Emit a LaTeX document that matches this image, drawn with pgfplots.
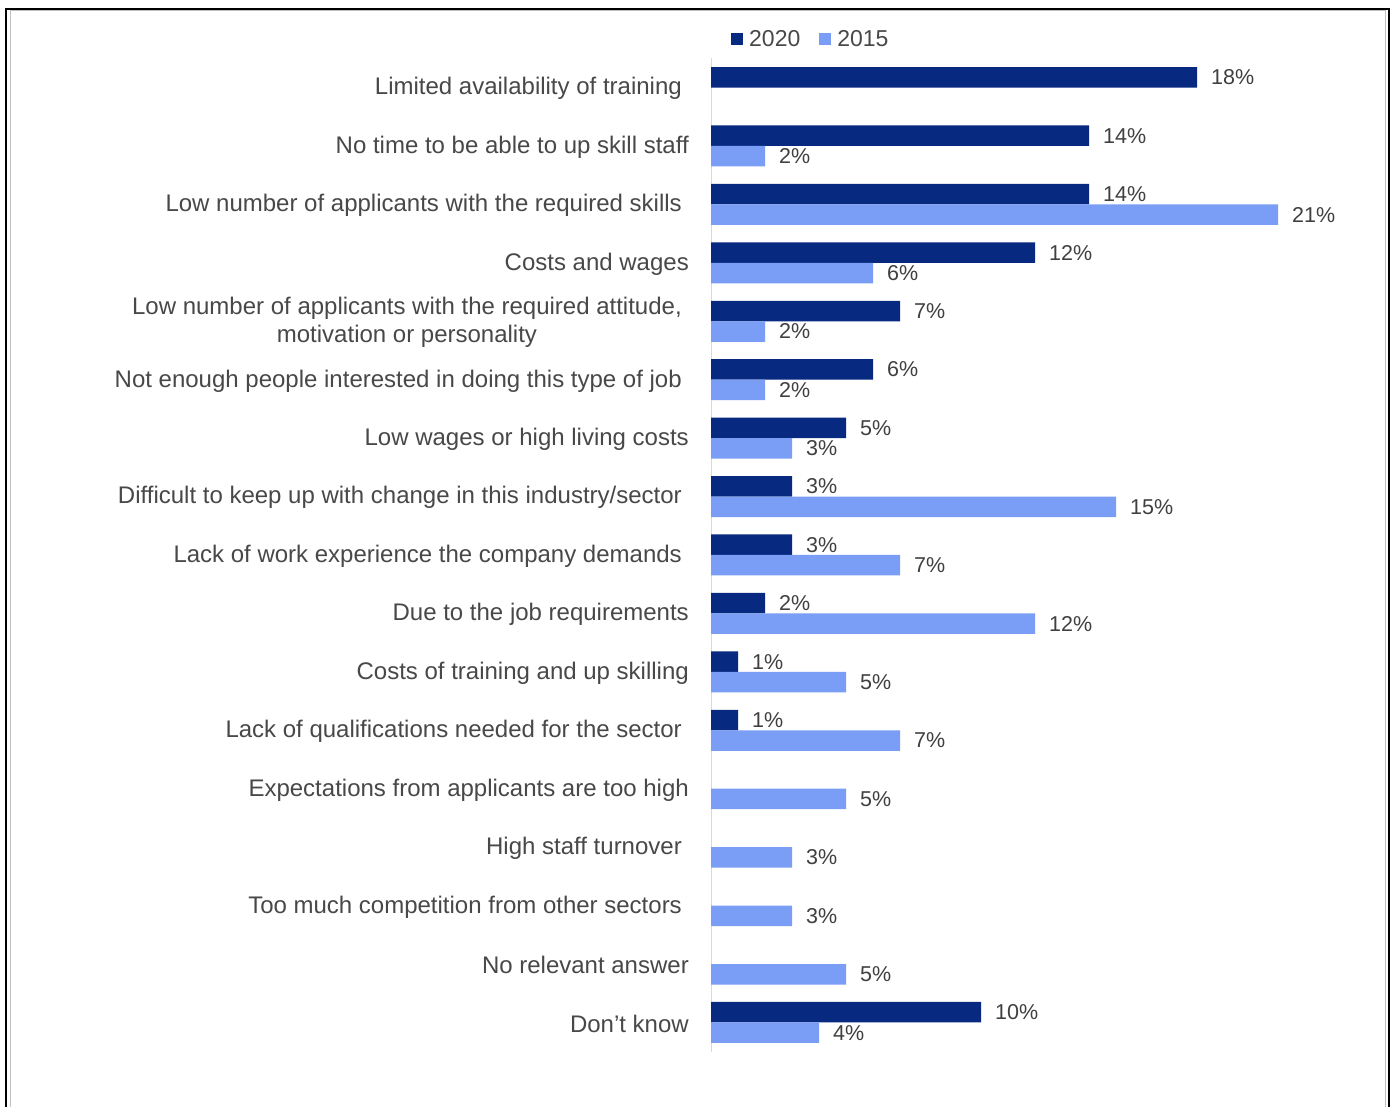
\documentclass[border=0pt]{standalone}
\usepackage{pgfplots}
\pgfplotsset{compat=1.18}
\usepackage{fontspec}
\setmainfont{Liberation Sans}
\definecolor{c2020}{RGB}{8,41,128}
\definecolor{c2015}{RGB}{122,157,245}
\definecolor{lbl}{RGB}{72,72,72}
\definecolor{val}{RGB}{64,64,64}
\begin{document}
\begin{tikzpicture}
\path[use as bounding box] (0,0) rectangle (1395pt,1106pt);
\fill[white] (0,0) rectangle (1395pt,1106pt);
\draw[black!25, line width=1pt] (10pt,-5pt) -- (10pt,1095pt) -- (1385.5pt,1095pt) -- (1385.5pt,-5pt);
\draw[black, line width=2.2pt] (6pt,-5pt) -- (6pt,1097pt) -- (1389pt,1097pt) -- (1389pt,-5pt);
\begin{axis}[
  at={(711pt,54.3pt)}, anchor=south west,
  scale only axis, width=675pt, height=993.4pt,
  xmin=0, xmax=25, ymin=-0.5, ymax=16.5,
  /pgf/number format/assume math mode=true,
  axis x line=none,
  axis y line*=left,
  y axis line style={draw=black!15, line width=1pt},
  xtick=\empty,
  ytick={0,...,16},
  major tick length=0pt,
  yticklabels={
    {Don't know},
    {No relevant answer},
    {Too much competition from other sectors\hspace*{7pt}},
    {High staff turnover\hspace*{7pt}},
    {Expectations from applicants are too high},
    {Lack of qualifications needed for the sector\hspace*{7pt}},
    {Costs of training and up skilling},
    {Due to the job requirements},
    {Lack of work experience the company demands\hspace*{7pt}},
    {Difficult to keep up with change in this industry/sector\hspace*{7pt}},
    {Low wages or high living costs},
    {Not enough people interested in doing this type of job\hspace*{7pt}},
    {Low number of applicants with the required attitude,\hspace*{7pt}\\motivation or personality\hspace*{7pt}},
    {Costs and wages},
    {Low number of applicants with the required skills\hspace*{7pt}},
    {No time to be able to up skill staff},
    {Limited availability of training\hspace*{7pt}}
  },
  yticklabel style={anchor=east, inner sep=0pt, xshift=-22pt, yshift=-1.2pt, align=center,
    font=\fontsize{24}{28}\selectfont, text=lbl},
  xbar, bar width=20.5pt,
  clip=false,
  nodes near coords={\pgfmathprintnumber{\pgfplotspointmeta}\%},
  nodes near coords style={anchor=west, inner sep=0pt, xshift=14pt,
    font=\fontsize{21.5}{24}\selectfont, text=val},
  legend columns=2,
  legend style={at={(rel axis cs:0,1)}, anchor=west, xshift=20pt, yshift=19pt,
    draw=none, fill=none, inner sep=0pt, font=\fontsize{23}{26}\selectfont,
    text=lbl, nodes={inner sep=2pt},
    /tikz/every even column/.append style={column sep=17pt}},
  legend image code/.code={\fill[#1] (0pt,-6pt) rectangle (12pt,6pt); \path (16pt,0pt);},
]
\addplot[fill=c2020, draw=none, bar shift=10.25pt] coordinates {
  (18,16) (14,15) (14,14) (12,13) (7,12) (6,11) (5,10) (3,9) (3,8) (2,7) (1,6) (1,5) (10,0)
};
\addlegendentry{2020}
\addplot[fill=c2015, draw=none, bar shift=-10.25pt] coordinates {
  (2,15) (21,14) (6,13) (2,12) (2,11) (3,10) (15,9) (7,8) (12,7) (5,6) (7,5) (5,4) (3,3) (3,2) (5,1) (4,0)
};
\addlegendentry{2015}
\end{axis}
\end{tikzpicture}
\end{document}
